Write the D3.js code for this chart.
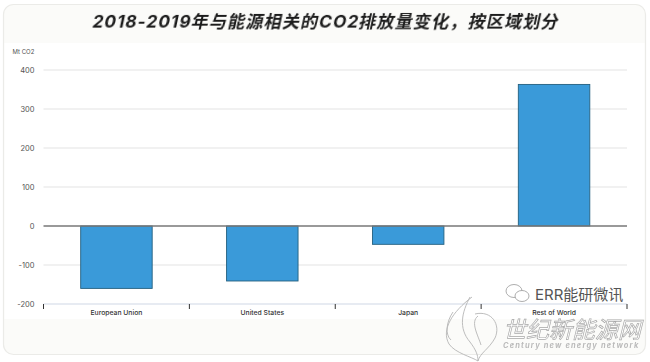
<!DOCTYPE html>
<html>
<head>
<meta charset="utf-8">
<script src="https://cdn.jsdelivr.net/npm/d3@7"></script>
<style>
  body { margin: 0; background: #fff; }
  svg { display: block; filter: blur(0.4px); }
  text { font-family: "Inter", "Noto Sans CJK SC", sans-serif; }
</style>
</head>
<body>
<svg id="chart"></svg>
<script>
const regions = ['European Union', 'United States', 'Japan', 'Rest of World']
const changes = [-160, -141, -47, 363]
const yTicks = [400, 300, 200, 100, 0, -100, -200]

const chartTitle = '2018-2019年与能源相关的CO2排放量变化，按区域划分'
const unitLabel = 'Mt CO2'

const width = 650, height = 362
const margin = {top: 70, right: 23, bottom: 58, left: 43.5}

const svg = d3.select('#chart').attr('width', width).attr('height', height)

// card behind the chart, off white at top and bottom, white in the middle
svg.append('rect')
    .attr('x', 3.5).attr('y', 4.5)
    .attr('width', 642).attr('height', 350)
    .attr('rx', 10)
    .attr('fill', '#fbfbf9')
    .attr('stroke', '#ebebe8')
    .attr('stroke-width', 1.2)
svg.append('rect')
    .attr('x', 4.5).attr('y', 43)
    .attr('width', 640).attr('height', 276)
    .attr('fill', '#ffffff')

const xScale = d3.scaleBand()
    .domain(regions)
    .range([margin.left, width - margin.right])
    .paddingInner(0.51)
    .paddingOuter(0.255)

const yScale = d3.scaleLinear()
    .domain([-200, 400])
    .range([height - margin.bottom, margin.top])

// gridlines
svg.append('g').selectAll('line')
    .data(yTicks.filter(d => d !== 0 && d !== -200))
    .enter()
    .append('line')
        .attr('x1', margin.left)
        .attr('x2', width - margin.right)
        .attr('y1', d => yScale(d))
        .attr('y2', d => yScale(d))
        .attr('stroke', '#ececec')
        .attr('stroke-width', 1.3)

// y axis labels only, no line
const yAxis = d3.axisLeft(yScale)
    .tickValues(yTicks)
    .tickSize(0)
    .tickPadding(9)
    .tickFormat(d => String(d))
const yAxisG = svg.append('g')
    .attr('transform', `translate(${margin.left},0)`)
    .call(yAxis)
yAxisG.select('.domain').remove()
yAxisG.selectAll('text')
    .attr('font-size', 7.5)
    .attr('fill', '#555')

// bars
svg.append('g').selectAll('.bar')
    .data(changes)
    .enter()
    .append('rect')
        .attr('class', 'bar')
        .attr('x', (d, i) => xScale(regions[i]))
        .attr('width', xScale.bandwidth())
        .attr('y', d => yScale(Math.max(d, 0)))
        .attr('height', d => Math.abs(yScale(d) - yScale(0)))
        .attr('fill', '#3a9ad9')
        .attr('stroke', '#24607f')
        .attr('stroke-width', 0.9)

// zero line
svg.append('line')
    .attr('x1', margin.left)
    .attr('x2', width - margin.right)
    .attr('y1', yScale(0))
    .attr('y2', yScale(0))
    .attr('stroke', '#777')
    .attr('stroke-width', 1.4)

// bottom axis, ticks sit between the categories
const step = xScale.step()
const tickEdges = d3.range(regions.length + 1).map(i => margin.left + i * step)
const bottom = yScale(-200)
svg.append('line')
    .attr('x1', margin.left)
    .attr('x2', width - margin.right)
    .attr('y1', bottom)
    .attr('y2', bottom)
    .attr('stroke', '#dfe4ee')
    .attr('stroke-width', 1.4)
svg.append('g').selectAll('line')
    .data(tickEdges)
    .enter()
    .append('line')
        .attr('x1', d => d)
        .attr('x2', d => d)
        .attr('y1', bottom)
        .attr('y2', bottom + 5)
        .attr('stroke', '#333')
        .attr('stroke-width', 1)
svg.append('g').selectAll('text')
    .data(regions)
    .enter()
    .append('text')
        .attr('x', d => xScale(d) + xScale.bandwidth() / 2)
        .attr('y', bottom + 10.5)
        .attr('text-anchor', 'middle')
        .attr('font-size', 6.8)
        .attr('font-weight', 500)
        .attr('fill', '#333')
        .text(d => d)

// unit label
svg.append('text')
    .attr('x', 12.5).attr('y', 54)
    .attr('font-size', 6)
    .attr('fill', '#555')
    .text(unitLabel)

// title, skewed by hand since the CJK font has no italic
svg.append('text')
    .attr('transform', 'translate(325,28) skewX(-12)')
    .attr('text-anchor', 'middle')
    .attr('font-size', 17.2)
    .attr('font-weight', 700)
    .attr('letter-spacing', 1.05)
    .attr('fill', '#1c1c1c')
    .text(chartTitle)

// watermarks
const wm = svg.append('g')
wm.append('text')
    .attr('x', 535).attr('y', 300)
    .attr('font-size', 15)
    .attr('fill', '#555')
    .text('ERR能研微讯')
wm.append('g').attr('fill', '#fff').attr('stroke', '#999').attr('stroke-width', 0.8)
    .call(g => {
        g.append('ellipse').attr('cx', 514).attr('cy', 291).attr('rx', 8).attr('ry', 6.5)
        g.append('ellipse').attr('cx', 522).attr('cy', 296).attr('rx', 7).attr('ry', 5.5)
    })
wm.append('g').attr('transform', 'translate(503,338) skewX(-14)')
    .append('text')
    .attr('font-size', 23)
    .attr('fill', '#fff')
    .attr('stroke', '#a8a8a8')
    .attr('stroke-width', 0.7)
    .text('世纪新能源网')
wm.append('text')
    .attr('x', 503).attr('y', 348)
    .attr('font-size', 7.5)
    .attr('font-weight', 700)
    .attr('font-style', 'italic')
    .attr('letter-spacing', 1.15)
    .attr('fill', '#bbb')
    .text('Century new energy network')

// flame logo
const flame = [
    'M472 297 C452 312 441 330 449 344 C455 353 472 357 478 361',
    'M470 297 C462 312 458 328 470 342 C476 350 478 355 478 361',
    'M475 314 C492 310 501 325 495 338 C489 349 480 353 478 361',
    'M478 316 C470 322 478 335 481 345',
    'M451 340 C445 335 446 322 453 312'
]
wm.append('g').selectAll('path')
    .data(flame)
    .enter()
    .append('path')
        .attr('d', d => d)
        .attr('fill', 'none')
        .attr('stroke', '#b5b5b5')
        .attr('stroke-width', 0.9)
</script>
</body>
</html>
